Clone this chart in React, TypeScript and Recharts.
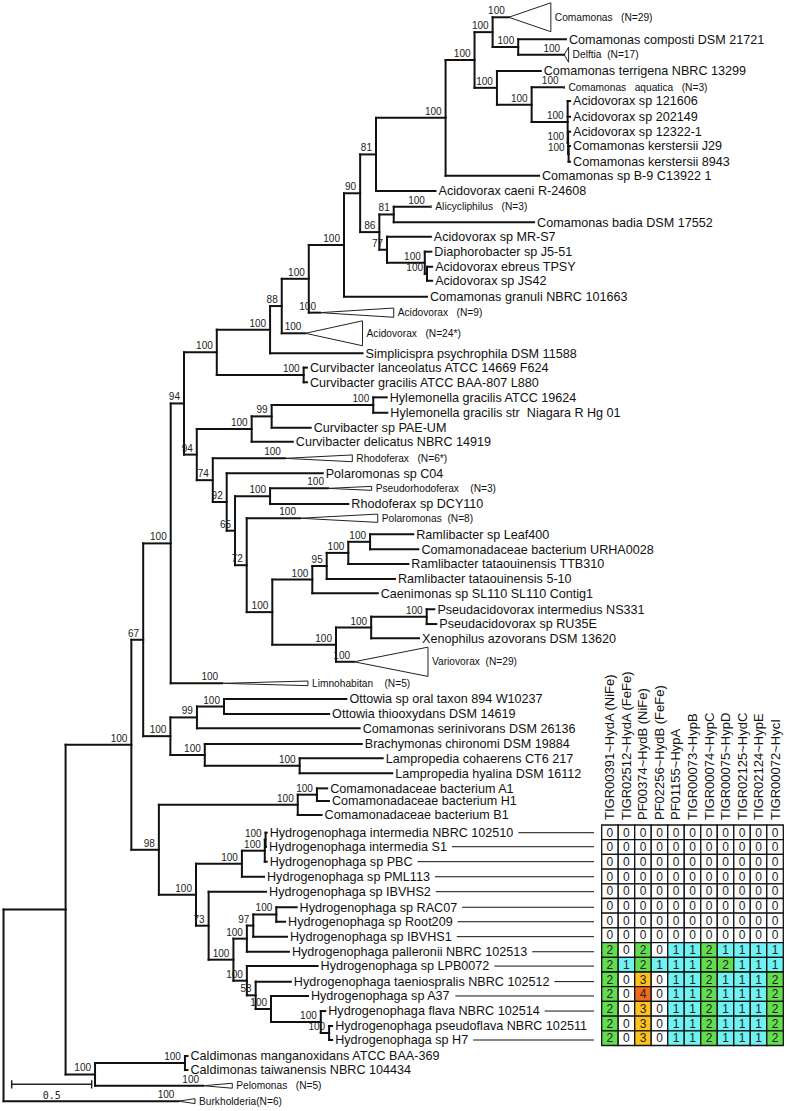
import React from 'react'
import { ComposedChart, XAxis, YAxis, Scatter, ReferenceLine, ReferenceArea } from 'recharts'

const FONT = '"Liberation Sans", Arial, sans-serif'

// species tips: x = depth from root (subst./site, scale bar 0.5), row = slot from the top
const tips = [
  { id: 'composti', name: 'Comamonas composti DSM 21721', x: 3.515, row: 1.0 },
  { id: 'terrigena', name: 'Comamonas terrigena NBRC 13299', x: 3.358, row: 3.06 },
  { id: 'a121606', name: 'Acidovorax sp 121606', x: 3.541, row: 5.01 },
  { id: 'a202149', name: 'Acidovorax sp 202149', x: 3.541, row: 6.03 },
  { id: 'a12322', name: 'Acidovorax sp 12322-1', x: 3.541, row: 7.0 },
  { id: 'kJ29', name: 'Comamonas kerstersii J29', x: 3.541, row: 7.93 },
  { id: 'k8943', name: 'Comamonas kerstersii 8943', x: 3.541, row: 8.95 },
  { id: 'b9', name: 'Comamonas sp B-9 C13922 1', x: 3.347, row: 9.86 },
  { id: 'caeni', name: 'Acidovorax caeni R-24608', x: 2.7, row: 10.85 },
  { id: 'badia', name: 'Comamonas badia DSM 17552', x: 3.316, row: 12.88 },
  { id: 'mrs7', name: 'Acidovorax sp MR-S7', x: 2.671, row: 13.82 },
  { id: 'j551', name: 'Diaphorobacter sp J5-51', x: 2.674, row: 14.79 },
  { id: 'ebreus', name: 'Acidovorax ebreus TPSY', x: 2.679, row: 15.77 },
  { id: 'js42', name: 'Acidovorax sp JS42', x: 2.679, row: 16.68 },
  { id: 'granuli', name: 'Comamonas granuli NBRC 101663', x: 2.647, row: 17.71 },
  { id: 'simpl', name: 'Simplicispra psychrophila DSM 11588', x: 2.244, row: 21.39 },
  { id: 'lanc', name: 'Curvibacter lanceolatus ATCC 14669 F624', x: 1.897, row: 22.32 },
  { id: 'grac', name: 'Curvibacter gracilis ATCC BAA-807 L880', x: 1.897, row: 23.27 },
  { id: 'hylA', name: 'Hylemonella gracilis ATCC 19624', x: 2.395, row: 24.25 },
  { id: 'hylS', name: 'Hylemonella gracilis str  Niagara R Hg 01', x: 2.399, row: 25.25 },
  { id: 'pae', name: 'Curvibacter sp PAE-UM', x: 1.92, row: 26.22 },
  { id: 'delic', name: 'Curvibacter delicatus NBRC 14919', x: 1.808, row: 27.13 },
  { id: 'c04', name: 'Polaromonas sp C04', x: 1.995, row: 29.18 },
  { id: 'dcy', name: 'Rhodoferax sp DCY110', x: 2.155, row: 31.18 },
  { id: 'leaf400', name: 'Ramlibacter sp Leaf400', x: 2.561, row: 33.14 },
  { id: 'urha', name: 'Comamonadaceae bacterium URHA0028', x: 2.593, row: 34.12 },
  { id: 'ttb', name: 'Ramlibacter tataouinensis TTB310', x: 2.53, row: 35.07 },
  { id: 'r510', name: 'Ramlibacter tataouinensis 5-10', x: 2.447, row: 36.05 },
  { id: 'caen', name: 'Caenimonas sp SL110 SL110 Contig1', x: 2.339, row: 36.97 },
  { id: 'pint', name: 'Pseudacidovorax intermedius NS331', x: 2.693, row: 38.01 },
  { id: 'pru', name: 'Pseudacidovorax sp RU35E', x: 2.705, row: 38.97 },
  { id: 'xeno', name: 'Xenophilus azovorans DSM 13620', x: 2.597, row: 39.9 },
  { id: 'ottO', name: 'Ottowia sp oral taxon 894 W10237', x: 2.143, row: 43.84 },
  { id: 'ottT', name: 'Ottowia thiooxydans DSM 14619', x: 2.035, row: 44.81 },
  { id: 'serin', name: 'Comamonas serinivorans DSM 26136', x: 2.226, row: 45.74 },
  { id: 'brach', name: 'Brachymonas chironomi DSM 19884', x: 2.239, row: 46.76 },
  { id: 'lampC', name: 'Lampropedia cohaerens CT6 217', x: 2.37, row: 47.69 },
  { id: 'lampH', name: 'Lampropedia hyalina DSM 16112', x: 2.43, row: 48.66 },
  { id: 'cA1', name: 'Comamonadaceae bacterium A1', x: 2.023, row: 49.64 },
  { id: 'cH1', name: 'Comamonadaceae bacterium H1', x: 2.034, row: 50.46 },
  { id: 'cB1', name: 'Comamonadaceae bacterium B1', x: 1.988, row: 51.37 },
  { id: 'hint', name: 'Hydrogenophaga intermedia NBRC 102510', x: 1.645, row: 52.52 },
  { id: 'hs1', name: 'Hydrogenophaga intermedia S1', x: 1.641, row: 53.43 },
  { id: 'pbc', name: 'Hydrogenophaga sp PBC', x: 1.645, row: 54.4 },
  { id: 'pml', name: 'Hydrogenophaga sp PML113', x: 1.628, row: 55.38 },
  { id: 'ibvhs2', name: 'Hydrogenophaga sp IBVHS2', x: 1.641, row: 56.35 },
  { id: 'rac07', name: 'Hydrogenophaga sp RAC07', x: 1.832, row: 57.36 },
  { id: 'root209', name: 'Hydrogenophaga sp Root209', x: 1.76, row: 58.3 },
  { id: 'ibvhs1', name: 'Hydrogenophaga sp IBVHS1', x: 1.772, row: 59.27 },
  { id: 'pall', name: 'Hydrogenophaga palleronii NBRC 102513', x: 1.784, row: 60.25 },
  { id: 'lpb', name: 'Hydrogenophaga sp LPB0072', x: 1.963, row: 61.18 },
  { id: 'taen', name: 'Hydrogenophaga taeniospralis NBRC 102512', x: 1.796, row: 62.19 },
  { id: 'a37', name: 'Hydrogenophaga sp A37', x: 1.903, row: 63.12 },
  { id: 'flava', name: 'Hydrogenophaga flava NBRC 102514', x: 2.011, row: 64.1 },
  { id: 'pflava', name: 'Hydrogenophaga pseudoflava NBRC 102511', x: 2.054, row: 65.07 },
  { id: 'h7', name: 'Hydrogenophaga sp H7', x: 2.054, row: 65.98 },
  { id: 'caldM', name: 'Caldimonas manganoxidans ATCC BAA-369', x: 1.15, row: 67.02 },
  { id: 'caldT', name: 'Caldimonas taiwanensis NBRC 104434', x: 1.15, row: 67.93 },
]

// collapsed clades: apex depth, base depth, half height in rows
const clades = [
  { id: 'cComa', name: 'Comamonas   (N=29)', x: 3.158, xEnd: 3.421, row: -0.43, half: 0.94, support: 100 },
  { id: 'cDelf', name: 'Delftia  (N=17)', x: 3.504, xEnd: 3.532, row: 2.0, half: 0.49, support: 100 },
  { id: 'cAqua', name: 'Comamonas   aquatica   (N=3)', x: 3.494, xEnd: 3.506, row: 4.12, half: 0.07, support: 100 },
  { id: 'cAlic', name: 'Alicycliphilus   (N=3)', x: 2.659, xEnd: 2.674, row: 11.87, half: 0.07, support: 100 },
  { id: 'cAci9', name: 'Acidovorax   (N=9)', x: 1.978, xEnd: 2.439, row: 18.75, half: 0.3, support: 100 },
  { id: 'cAci24', name: 'Acidovorax   (N=24*)', x: 1.887, xEnd: 2.244, row: 20.09, half: 0.81, support: 100 },
  { id: 'cRhod', name: 'Rhodoferax   (N=6*)', x: 1.759, xEnd: 2.18, row: 28.21, half: 0.22, support: 100 },
  { id: 'cPsrh', name: 'Pseudorhodoferax    (N=3)', x: 2.028, xEnd: 2.301, row: 30.16, half: 0.13, support: 100 },
  { id: 'cPola', name: 'Polaromonas  (N=8)', x: 1.853, xEnd: 2.339, row: 32.1, half: 0.27, support: 100 },
  { id: 'cVari', name: 'Variovorax  (N=29)', x: 2.191, xEnd: 2.653, row: 41.42, half: 0.95, support: 100 },
  { id: 'cLimn', name: 'Limnohabitan    (N=5)', x: 1.366, xEnd: 1.903, row: 42.82, half: 0.15, support: 100 },
  { id: 'cPelo', name: 'Pelomonas   (N=5)', x: 1.247, xEnd: 1.43, row: 68.95, half: 0.16, support: 100 },
  { id: 'cBurk', name: 'Burkholderia(N=6)', x: 1.093, xEnd: 1.197, row: 69.95, half: 0.16, support: 100 },
]

// internal nodes: depth, bootstrap support, children (top to bottom)
const nodes = [
  { id: 'root', x: 0, support: null, kids: ['n65', 'cBurk'] },
  { id: 'n65', x: 0.388, support: null, kids: ['n131', 'n95'] },
  { id: 'n131', x: 0.799, support: 100, kids: ['n143', 'n158'] },
  { id: 'n143', x: 0.873, support: 67, kids: ['n171', 'n170b'] },
  { id: 'n171', x: 1.045, support: 100, kids: ['n184', 'cLimn'] },
  { id: 'n184', x: 1.128, support: 94, kids: ['n216', 'n197'] },
  { id: 'n216', x: 1.333, support: 100, kids: ['n270', 'curv'] },
  { id: 'n270', x: 1.666, support: 100, kids: ['n282', 'simpl'] },
  { id: 'n282', x: 1.739, support: 88, kids: ['n308', 'cAci24'] },
  { id: 'n308', x: 1.908, support: 100, kids: ['n344', 'cAci9'] },
  { id: 'n344', x: 2.128, support: 100, kids: ['n360', 'granuli'] },
  { id: 'n360', x: 2.229, support: 90, kids: ['n376', 'n379'] },
  { id: 'n376', x: 2.328, support: 81, kids: ['n445', 'caeni'] },
  { id: 'n445', x: 2.763, support: 100, kids: ['n474', 'b9'] },
  { id: 'n474', x: 2.944, support: 100, kids: ['n492', 'n497'] },
  { id: 'n492', x: 3.057, support: 100, kids: ['cComa', 'n518'] },
  { id: 'n518', x: 3.217, support: 100, kids: ['composti', 'cDelf'] },
  { id: 'n497', x: 3.084, support: 100, kids: ['terrigena', 'n531'] },
  { id: 'n531', x: 3.301, support: 100, kids: ['cAqua', 'n567'] },
  { id: 'n567', x: 3.526, support: 100, kids: ['a121606', 'a202149', 'n568'] },
  { id: 'n568', x: 3.529, support: 100, kids: ['a12322', 'n568b'] },
  { id: 'n568b', x: 3.532, support: 100, kids: ['kJ29', 'k8943'] },
  { id: 'n379', x: 2.349, support: 86, kids: ['n392', 'n386'] },
  { id: 'n392', x: 2.439, support: 81, kids: ['cAlic', 'badia'] },
  { id: 'n386', x: 2.397, support: 77, kids: ['mrs7', 'n423'] },
  { id: 'n423', x: 2.633, support: 100, kids: ['j551', 'n425'] },
  { id: 'n425', x: 2.647, support: 100, kids: ['ebreus', 'js42'] },
  { id: 'curv', x: 1.876, support: 100, kids: ['lanc', 'grac'] },
  { id: 'n197', x: 1.208, support: 94, kids: ['n251', 'n212'] },
  { id: 'n251', x: 1.551, support: 100, kids: ['n271', 'delic'] },
  { id: 'n271', x: 1.676, support: 99, kids: ['hyl', 'pae'] },
  { id: 'hyl', x: 2.311, support: 100, kids: ['hylA', 'hylS'] },
  { id: 'n212', x: 1.308, support: 74, kids: ['cRhod', 'n226'] },
  { id: 'n226', x: 1.395, support: 92, kids: ['c04', 'n235'] },
  { id: 'n235', x: 1.447, support: 65, kids: ['n270b', 'n246'] },
  { id: 'n270b', x: 1.666, support: 100, kids: ['cPsrh', 'dcy'] },
  { id: 'n246', x: 1.52, support: 72, kids: ['cPola', 'n272'] },
  { id: 'n272', x: 1.68, support: 100, kids: ['n312', 'n336'] },
  { id: 'n312', x: 1.93, support: 100, kids: ['n326', 'caen'] },
  { id: 'n326', x: 2.02, support: 95, kids: ['n348', 'r510'] },
  { id: 'n348', x: 2.155, support: 100, kids: ['n370', 'ttb'] },
  { id: 'n370', x: 2.291, support: 100, kids: ['leaf400', 'urha'] },
  { id: 'n336', x: 2.078, support: 100, kids: ['n371', 'cVari'] },
  { id: 'n371', x: 2.298, support: 100, kids: ['pseud', 'xeno'] },
  { id: 'pseud', x: 2.645, support: 100, kids: ['pint', 'pru'] },
  { id: 'n170b', x: 1.043, support: 100, kids: ['n197b', 'n204'] },
  { id: 'n197b', x: 1.209, support: 99, kids: ['ott', 'serin'] },
  { id: 'ott', x: 1.378, support: 100, kids: ['ottO', 'ottT'] },
  { id: 'n204', x: 1.258, support: 100, kids: ['brach', 'lamp'] },
  { id: 'lamp', x: 1.851, support: 100, kids: ['lampC', 'lampH'] },
  { id: 'n158', x: 0.971, support: 98, kids: ['n297', 'n196'] },
  { id: 'n297', x: 1.839, support: 100, kids: ['n317', 'cB1'] },
  { id: 'n317', x: 1.959, support: 100, kids: ['cA1', 'cH1'] },
  { id: 'n196', x: 1.203, support: 100, kids: ['n242', 'n208'] },
  { id: 'n242', x: 1.49, support: 100, kids: ['n264', 'pml'] },
  { id: 'n264', x: 1.633, support: 100, kids: ['n265', 'pbc'] },
  { id: 'n265', x: 1.638, support: 100, kids: ['hint', 'hs1'] },
  { id: 'n208', x: 1.282, support: 73, kids: ['ibvhs2', 'n233'] },
  { id: 'n233', x: 1.437, support: 100, kids: ['n247a', 'n247b'] },
  { id: 'n247a', x: 1.521, support: 100, kids: ['n253', 'pall'] },
  { id: 'n253', x: 1.561, support: 97, kids: ['n276', 'ibvhs1'] },
  { id: 'n276', x: 1.705, support: 100, kids: ['rac07', 'root209'] },
  { id: 'n247b', x: 1.521, support: 100, kids: ['lpb', 'n255'] },
  { id: 'n255', x: 1.576, support: 53, kids: ['taen', 'n271b'] },
  { id: 'n271b', x: 1.672, support: 100, kids: ['a37', 'n320'] },
  { id: 'n320', x: 1.983, support: 100, kids: ['flava', 'n329'] },
  { id: 'n329', x: 2.035, support: 100, kids: ['pflava', 'h7'] },
  { id: 'n95', x: 0.572, support: 100, kids: ['cald', 'cPelo'] },
  { id: 'cald', x: 1.134, support: 100, kids: ['caldM', 'caldT'] },
]

// scale bar
const scaleBar = { x: 0.051, length: 0.5, row: 68.86, label: '0.5' }

// hydrogenase gene counts, rows follow the Hydrogenophaga tips
const hmColumns = [
  'TIGR00391~HydA (NiFe)', 'TIGR02512~HydA (FeFe)', 'PF00374~HydB (NiFe)', 'PF02256~HydB (FeFe)',
  'PF01155~HypA', 'TIGR00073~HypB', 'TIGR00074~HypC', 'TIGR00075~HypD',
  'TIGR02125~HydC', 'TIGR02124~HypE', 'TIGR00072~HycI',
]
const hmRows = ['hint', 'hs1', 'pbc', 'pml', 'ibvhs2', 'rac07', 'root209', 'ibvhs1', 'pall', 'lpb', 'taen', 'a37', 'flava', 'pflava', 'h7']
const hmValues = [
  [0, 0, 0, 0, 0, 0, 0, 0, 0, 0, 0],
  [0, 0, 0, 0, 0, 0, 0, 0, 0, 0, 0],
  [0, 0, 0, 0, 0, 0, 0, 0, 0, 0, 0],
  [0, 0, 0, 0, 0, 0, 0, 0, 0, 0, 0],
  [0, 0, 0, 0, 0, 0, 0, 0, 0, 0, 0],
  [0, 0, 0, 0, 0, 0, 0, 0, 0, 0, 0],
  [0, 0, 0, 0, 0, 0, 0, 0, 0, 0, 0],
  [0, 0, 0, 0, 0, 0, 0, 0, 0, 0, 0],
  [2, 0, 2, 0, 1, 1, 2, 1, 1, 1, 1],
  [2, 1, 2, 1, 1, 1, 2, 2, 1, 1, 1],
  [2, 0, 3, 0, 1, 1, 2, 1, 1, 1, 2],
  [2, 0, 4, 0, 1, 1, 2, 1, 1, 1, 2],
  [2, 0, 3, 0, 1, 1, 2, 1, 1, 1, 2],
  [2, 0, 3, 0, 1, 1, 2, 1, 1, 1, 2],
  [2, 0, 3, 0, 1, 1, 2, 1, 1, 1, 2],
]
const hmColors = ['#ffffff', '#6ef2f2', '#63dd4f', '#ffc21c', '#f26a1b']

const W = 787
const H = 1111
const X_DOMAIN = [-0.022, 4.897]
const Y_DOMAIN = [-1.552, 70.59]
const HM_LEFT = 600
const HM_TOP = 640

// --- tree layout -------------------------------------------------------
const byId: Record<string, any> = {}
tips.forEach(t => { byId[t.id] = { ...t, kind: 'tip', y: t.row } })
clades.forEach(c => { byId[c.id] = { ...c, kind: 'clade', y: c.row } })
nodes.forEach(n => { byId[n.id] = { ...n, kind: 'node', y: null } })
const parentOf: Record<string, string> = {}
nodes.forEach(n => n.kids.forEach(k => { parentOf[k] = n.id }))

function yOf(id: string): number {
  const e = byId[id]
  if (e.y == null) {
    const ys = e.kids.map(yOf)
    e.y = (ys[0] + ys[ys.length - 1]) / 2
  }
  return e.y
}
yOf('root')

const branches: { x1: number; y1: number; x2: number; y2: number }[] = []
Object.values(byId).forEach((e: any) => {
  const p = parentOf[e.id]
  if (p) branches.push({ x1: byId[p].x, y1: e.y, x2: e.x, y2: e.y })
  if (e.kind === 'node') {
    const first = byId[e.kids[0]]
    const last = byId[e.kids[e.kids.length - 1]]
    branches.push({ x1: e.x, y1: first.y, x2: e.x, y2: last.y })
  }
})

const triangles: { x1: number; y1: number; x2: number; y2: number }[] = []
clades.forEach(c => {
  const y = byId[c.id].y
  triangles.push({ x1: c.x, y1: y, x2: c.xEnd, y2: y - c.half })
  triangles.push({ x1: c.xEnd, y1: y - c.half, x2: c.xEnd, y2: y + c.half })
  triangles.push({ x1: c.xEnd, y1: y + c.half, x2: c.x, y2: y })
})

const supportPts = Object.values(byId)
  .filter((e: any) => e.support != null)
  .map((e: any) => ({ x: e.x, y: e.y, label: String(e.support) }))
const tipPts = tips.map(t => ({ x: t.x, y: t.row, name: t.name, hm: hmRows.includes(t.id) }))
const cladePts = clades.map(c => ({ x: c.xEnd, y: c.row, name: c.name }))

let measureCtx: CanvasRenderingContext2D | null = null
function textWidth(s: string, font: string) {
  if (!measureCtx) measureCtx = document.createElement('canvas').getContext('2d')
  if (!measureCtx) return s.length * 7
  measureCtx.font = font
  return measureCtx.measureText(s).width
}

const TipLabel = (p: any) => {
  const { cx, cy, payload } = p
  const w = textWidth(payload.name, '12.6px "Liberation Sans"')
  const x1 = cx + 3 + w + 5
  const x2 = HM_LEFT - 6
  return (
    <g>
      <text x={cx + 3} y={cy + 4.4} fontSize={12.6} fontFamily={FONT} fill="#111" style={{ whiteSpace: 'pre' }}>
        {payload.name}
      </text>
      {payload.hm && x2 - x1 > 4 ? <line x1={x1} x2={x2} y1={cy} y2={cy} stroke="#111" strokeWidth={1} /> : null}
    </g>
  )
}

const CladeLabel = (p: any) => (
  <text x={p.cx + 4} y={p.cy + 3.6} fontSize={10.2} fontFamily={FONT} fill="#111" style={{ whiteSpace: 'pre' }}>
    {p.payload.name}
  </text>
)

const SupportLabel = (p: any) => (
  <text x={p.cx - 4} y={p.cy - 3} fontSize={10} fontFamily={FONT} fill="#222" textAnchor="end">
    {p.payload.label}
  </text>
)

const ScaleLabel = (p: any) => (
  <text x={p.cx} y={p.cy + 15} fontSize={10} fontFamily='"DejaVu Sans Mono", monospace' fill="#222" textAnchor="middle">
    {p.payload.label}
  </text>
)

function TreeChart() {
  const sb = scaleBar
  const tick = 0.27
  return (
    <ComposedChart width={W} height={H} margin={{ top: 0, right: 0, bottom: 0, left: 0 }}>
      <XAxis type="number" dataKey="x" domain={X_DOMAIN} allowDataOverflow hide />
      <YAxis type="number" dataKey="y" domain={Y_DOMAIN} allowDataOverflow reversed hide />
      {branches.map((b, i) => (
        <ReferenceLine key={'b' + i} segment={[{ x: b.x1, y: b.y1 }, { x: b.x2, y: b.y2 }]}
          stroke="#111" strokeWidth={2} strokeLinecap="square" ifOverflow="visible" />
      ))}
      {triangles.map((b, i) => (
        <ReferenceLine key={'t' + i} segment={[{ x: b.x1, y: b.y1 }, { x: b.x2, y: b.y2 }]}
          stroke="#222" strokeWidth={1} ifOverflow="visible" />
      ))}
      <ReferenceLine segment={[{ x: sb.x, y: sb.row }, { x: sb.x + sb.length, y: sb.row }]} stroke="#222" strokeWidth={1.5} ifOverflow="visible" />
      <ReferenceLine segment={[{ x: sb.x, y: sb.row - tick }, { x: sb.x, y: sb.row + tick }]} stroke="#222" strokeWidth={1.5} ifOverflow="visible" />
      <ReferenceLine segment={[{ x: sb.x + sb.length, y: sb.row - tick }, { x: sb.x + sb.length, y: sb.row + tick }]} stroke="#222" strokeWidth={1.5} ifOverflow="visible" />
      <Scatter data={supportPts} shape={SupportLabel} isAnimationActive={false} />
      <Scatter data={tipPts} shape={TipLabel} isAnimationActive={false} />
      <Scatter data={cladePts} shape={CladeLabel} isAnimationActive={false} />
      <Scatter data={[{ x: sb.x + sb.length / 2, y: sb.row, label: sb.label }]} shape={ScaleLabel} isAnimationActive={false} />
    </ComposedChart>
  )
}

const HeaderTick = (p: any) => {
  const i = Math.floor(p.payload.value)
  return (
    <text transform={`translate(${p.x + 4.5},${p.y - 3}) rotate(-90)`} fontSize={13} fontFamily={FONT} fill="#111">
      {hmColumns[i]}
    </text>
  )
}

const CellText = (p: any) => (
  <text x={p.cx} y={p.cy + 4.2} fontSize={12} fontFamily={FONT} fill="#222" textAnchor="middle">
    {p.payload.v}
  </text>
)

function HeatmapChart() {
  const cells: { x: number; y: number; v: number; c: number; r: number }[] = []
  hmValues.forEach((row, r) => row.forEach((v, c) => cells.push({ x: c + 0.5, y: r + 0.5, v, c, r })))
  return (
    <ComposedChart width={186} height={407} margin={{ top: 0, right: 2.7, bottom: 1.5, left: 1.7 }}>
      <XAxis type="number" dataKey="x" orientation="top" domain={[0, hmColumns.length]} allowDataOverflow
        ticks={hmColumns.map((_, i) => i + 0.5)} interval={0} height={185}
        axisLine={false} tickLine={false} tickSize={0} tick={HeaderTick} />
      <YAxis type="number" dataKey="y" domain={[0, hmRows.length]} allowDataOverflow reversed hide />
      {cells.map(cell => (
        <ReferenceArea key={cell.r + '-' + cell.c} x1={cell.c} x2={cell.c + 1} y1={cell.r} y2={cell.r + 1}
          fill={hmColors[cell.v]} fillOpacity={1} stroke="#111" strokeWidth={1.3} ifOverflow="visible" />
      ))}
      <Scatter data={cells} shape={CellText} isAnimationActive={false} />
    </ComposedChart>
  )
}

export default function App() {
  return (
    <div style={{ position: 'absolute', left: 0, top: 0, width: W, height: H, background: '#fff' }}>
      <TreeChart />
      <div style={{ position: 'absolute', left: HM_LEFT, top: HM_TOP }}>
        <HeatmapChart />
      </div>
    </div>
  )
}
